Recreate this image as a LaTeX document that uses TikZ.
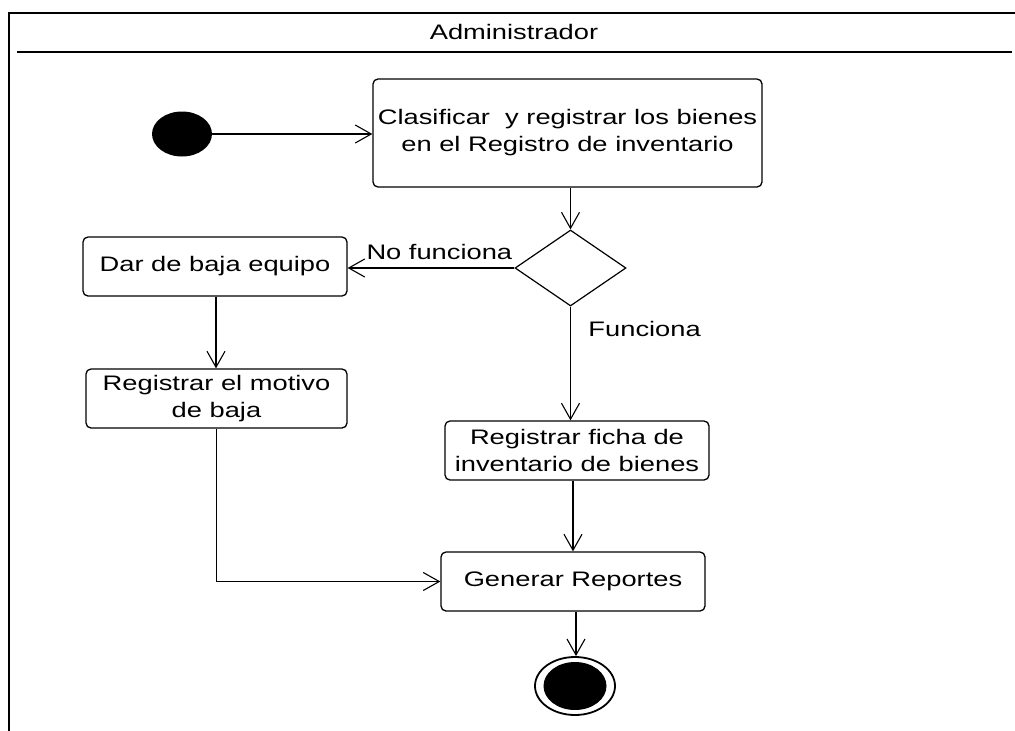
\documentclass[tikz,border=0pt]{standalone}
\usepackage{fontspec}
\setmainfont{Liberation Sans}[FakeStretch=1.3]
\usetikzlibrary{shapes.geometric,arrows.meta}

\begin{document}
\begin{tikzpicture}[x=1pt,y=-1pt,
  every node/.style={font=\fontsize{21}{27}\selectfont},
  frameline/.style={line width=2.6pt},
  activity/.style={draw, line width=1.3pt, rounded corners=5pt, inner sep=0pt,
    align=center, minimum height=59pt},
  decision/.style={draw, diamond, line width=1.2pt, inner sep=0pt, aspect=1.46,
    minimum width=111pt, minimum height=76pt},
  flow/.style={line width=1.3pt, -{Straight Barb[length=16pt,width=18pt,line width=1.1pt]}},
  flowline/.style={line width=1.3pt}
]
\useasboundingbox[fill=white] (0,0) rectangle (1015,731);

% swimlane frame and header
\coordinate (laneTL) at (9,13);
\coordinate (laneTR) at (1015,13);
\coordinate (laneBL) at (9,731);
\coordinate (sepL) at (17,52);
\coordinate (sepR) at (1012,52);
\draw[frameline] (laneBL) -- (laneTL) -- (laneTR);
\draw[frameline] (sepL) -- (sepR);
\node (lane) at (514,32) {Administrador};

% initial state
\node[ellipse, fill=black, minimum width=60pt, minimum height=45pt, inner sep=0pt] (init) at (182,134) {};

% activities
\node[activity, minimum width=389pt, minimum height=108pt] (clasif) at (567.5,133)
  {Clasificar\ \ y registrar los bienes\\en el Registro de inventario};
\node[decision] (dec) at (570.5,268) {};
\node[activity, minimum width=264pt] (baja) at (215,266.5) {Dar de baja equipo};
\node[activity, minimum width=261pt] (motivo) at (216.5,398.5) {Registrar el motivo\\de baja};
\node[activity, minimum width=264pt] (ficha) at (577,450.5) {Registrar ficha de\\inventario de bienes};
\node[activity, minimum width=264pt] (reportes) at (573,581.5) {Generar Reportes};

% final state
\node[ellipse, draw, line width=1.8pt, minimum width=80pt, minimum height=58pt, inner sep=0pt] (final) at (575,686) {};
\node[ellipse, fill=black, minimum width=63pt, minimum height=48pt, inner sep=0pt] (finalcore) at (final.center) {};

% transitions
\draw[flow] (init.east) -- (init.east -| clasif.west);
\draw[flow] (clasif.south -| dec.north) -- (dec.north);
\draw[flow] (dec.west) -- (dec.west -| baja.east)
  node[pos=0.45, above=4pt] (lblno) {No funciona};
\draw[flow] ([xshift=1pt]baja.south) -- ([xshift=1pt]baja.south |- motivo.north);
\draw[flow] (dec.south) -- (dec.south |- ficha.north)
  node[pos=0.2, right=14pt] (lblsi) {Funciona};
\draw[flow] ([xshift=-4pt]ficha.south) -- ([xshift=-4pt]ficha.south |- reportes.north);
\coordinate (bend) at (motivo.south |- reportes.west);
\draw[flowline] (motivo.south) -- (bend);
\draw[flow] (bend) -- (reportes.west);
\draw[flow] ([xshift=3pt]reportes.south) -- ([xshift=3pt]reportes.south |- final.north);
\end{tikzpicture}
\end{document}
